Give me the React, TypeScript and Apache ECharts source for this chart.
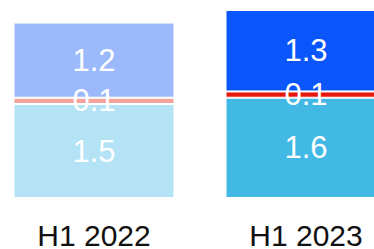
import React, { useEffect, useRef } from "react";
import * as echarts from "echarts";

const categories = ["H1 2022", "H1 2023"];
const lowerValues = [1.5, 1.6];
const middleValues = [0.1, 0.1];
const upperValues = [1.2, 1.3];

const lowerColors = ["#b3e3f5", "#42b9e5"];
const middleColors = ["#f4a29c", "#e8170b"];
const upperColors = ["#9cbafb", "#0a56fb"];

export default function App() {
  const ref = useRef<HTMLDivElement>(null);
  useEffect(() => {
    document.body.style.margin = "0";
    const chart = echarts.init(ref.current!, null, { renderer: "svg" });
    const mk = (name: string, vals: number[], colors: string[]) => ({
      name,
      type: "bar",
      stack: "total",
      barWidth: 161,
      data: vals.map((v, i) => ({ value: v, itemStyle: { color: colors[i] } })),
      itemStyle: { borderColor: "#ffffff", borderWidth: 1 },
      label: {
        show: true,
        position: "inside",
        color: "#ffffff",
        fontSize: 31,
        fontFamily: "Liberation Sans, Arial, sans-serif",
      },
    });
    chart.setOption({
      animation: false,
      grid: {
        left: 0,
        right: 0,
        top: 10,
        bottom: 51,
        containLabel: false,
        outerBoundsMode: "none",
      },
      xAxis: {
        type: "category",
        data: categories,
        axisLine: { show: false },
        axisTick: { show: false },
        axisLabel: {
          color: "#111111",
          fontSize: 30,
          lineHeight: 22,
          margin: 26,
          fontFamily: "Liberation Sans, Arial, sans-serif",
        },
      },
      yAxis: { type: "value", min: 0, max: 3, show: false, splitLine: { show: false } },
      series: [
        mk("lower", lowerValues, lowerColors),
        mk("middle", middleValues, middleColors),
        mk("upper", upperValues, upperColors),
      ],
    });
    return () => chart.dispose();
  }, []);
  return (
    <div style={{ position: "relative", width: 374, height: 249, overflow: "hidden" }}>
      <div ref={ref} style={{ position: "absolute", left: -12.5, top: 0, width: 424, height: 249 }} />
    </div>
  );
}
